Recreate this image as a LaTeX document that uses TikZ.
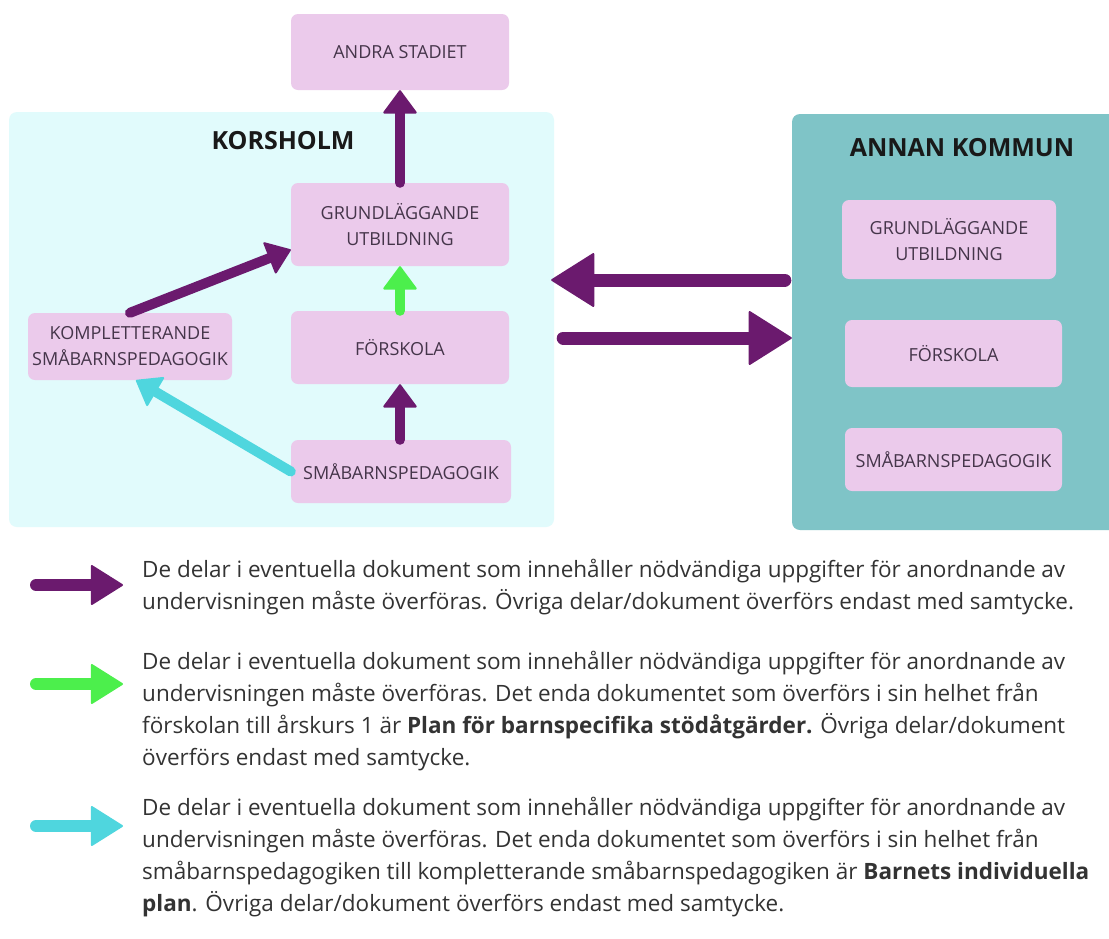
\documentclass[tikz,border=0pt]{standalone}
\usepackage{fontspec}
\setmainfont{Open Sans}
\usetikzlibrary{arrows.meta,positioning}

\definecolor{boxpink}{HTML}{EBCAEB}
\definecolor{korsbg}{HTML}{E1FBFC}
\definecolor{annanbg}{HTML}{7FC4C7}
\definecolor{lila}{HTML}{6B1A6E}
\definecolor{gron}{HTML}{4CEF4C}
\definecolor{turkos}{HTML}{4FD6DE}
\definecolor{boxtext}{HTML}{45354A}
\definecolor{legtext}{HTML}{333333}

\tikzset{
  region/.style={rounded corners=8pt, inner sep=0pt},
  stadium/.style={fill=boxpink, rounded corners=7pt, align=center, text=boxtext, inner sep=0pt, font=\fontsize{18}{26}\selectfont},
  rubrik/.style={font=\fontsize{25}{28}\selectfont\bfseries, text=black!90},
  pil/.style={line width=10pt, line cap=round, -{Triangle[round, line width=2pt, length=24pt, width=35pt]}},
  storpil/.style={line width=13pt, line cap=round, -{Triangle[round, line width=2pt, length=44pt, width=55pt]}},
  legpil/.style={line width=12pt, line cap=round, -{Triangle[round, line width=2pt, length=33pt, width=41pt]}},
  legtext/.style={anchor=north west, align=left, inner sep=0pt, text=legtext, font=\fontsize{22.5}{32}\selectfont},
}

\begin{document}
\begin{tikzpicture}[x=1pt, y=-1pt]
    \useasboundingbox (0,0) rectangle (1109,938);
    \fill[white] (0,0) rectangle (1109,938);

    \node[region, fill=korsbg, minimum width=545pt, minimum height=415pt] (korsholm) at (281.5,319.5) [] {};
    \node[region, fill=annanbg, minimum width=330pt, minimum height=416pt] (annan) at (957,322) [] {};
    \node[rubrik] (korsholm_label) at (283,141) [] {KORSHOLM};
    \node[rubrik] (annan_label) at (962,148) [] {ANNAN KOMMUN};

    \node[stadium, minimum width=218pt, minimum height=76pt] (andra) at (400,52) [] {ANDRA STADIET};
    \node[stadium, minimum width=218pt, minimum height=83pt] (grund_k) at (400,224.5) [] {GRUNDLÄGGANDE\\UTBILDNING};
        \draw[pil, lila] (grund_k) -- (andra);
    \node[stadium, minimum width=218pt, minimum height=73pt] (forskola_k) at (400,347.5) [] {FÖRSKOLA};
        \draw[pil, gron] (forskola_k) -- (grund_k);
    \node[stadium, minimum width=220pt, minimum height=63pt] (smab_k) at (401,471.5) [] {SMÅBARNSPEDAGOGIK};
        \draw[pil, lila] (smab_k.north -| forskola_k) -- (forskola_k);
    \node[stadium, minimum width=204pt, minimum height=67pt] (kompl) at (130,346.5) [] {KOMPLETTERANDE\\SMÅBARNSPEDAGOGIK};
        \draw[pil, lila] (kompl.north) -- (grund_k.193);
        \draw[pil, turkos] (smab_k.west) -- (kompl.-80);

    \node[stadium, minimum width=214pt, minimum height=79pt] (grund_a) at (949,239.5) [] {GRUNDLÄGGANDE\\UTBILDNING};
    \node[stadium, minimum width=217pt, minimum height=67pt] (forskola_a) at (953.5,353.5) [] {FÖRSKOLA};
    \node[stadium, minimum width=217pt, minimum height=63pt] (smab_a) at (953.5,459.5) [] {SMÅBARNSPEDAGOGIK};

    \draw[storpil, lila, shorten <=7pt, shorten >=-3pt] ([yshift=42pt]annan.west) -- ([yshift=42pt]annan.west -| korsholm.east);
    \draw[storpil, lila, shorten <=9pt] ([yshift=-16pt]annan.west -| korsholm.east) -- ([yshift=-16pt]annan.west);

    \coordinate (leg1_start) at (36,585);
    \coordinate (leg1_end) at (123,585);
    \draw[legpil, lila] (leg1_start) -- (leg1_end);
    \node[legtext] (leg1_text) at (142,559) [] {De delar i eventuella dokument som innehåller nödvändiga uppgifter för anordnande av\\undervisningen måste överföras. Övriga delar/dokument överförs endast med samtycke.};

    \coordinate (leg2_start) at (36,684);
    \coordinate (leg2_end) at (123,684);
    \draw[legpil, gron] (leg2_start) -- (leg2_end);
    \node[legtext] (leg2_text) at (142,651) [] {De delar i eventuella dokument som innehåller nödvändiga uppgifter för anordnande av\\undervisningen måste överföras. Det enda dokumentet som överförs i sin helhet från\\förskolan till årskurs 1 är \textbf{Plan för barnspecifika stödåtgärder.} Övriga delar/dokument\\överförs endast med samtycke.};

    \coordinate (leg3_start) at (36,826);
    \coordinate (leg3_end) at (123,826);
    \draw[legpil, turkos] (leg3_start) -- (leg3_end);
    \node[legtext] (leg3_text) at (142,797) [] {De delar i eventuella dokument som innehåller nödvändiga uppgifter för anordnande av\\undervisningen måste överföras. Det enda dokumentet som överförs i sin helhet från\\småbarnspedagogiken till kompletterande småbarnspedagogiken är \textbf{Barnets individuella}\\\textbf{plan}. Övriga delar/dokument överförs endast med samtycke.};

\end{tikzpicture}
\end{document}
